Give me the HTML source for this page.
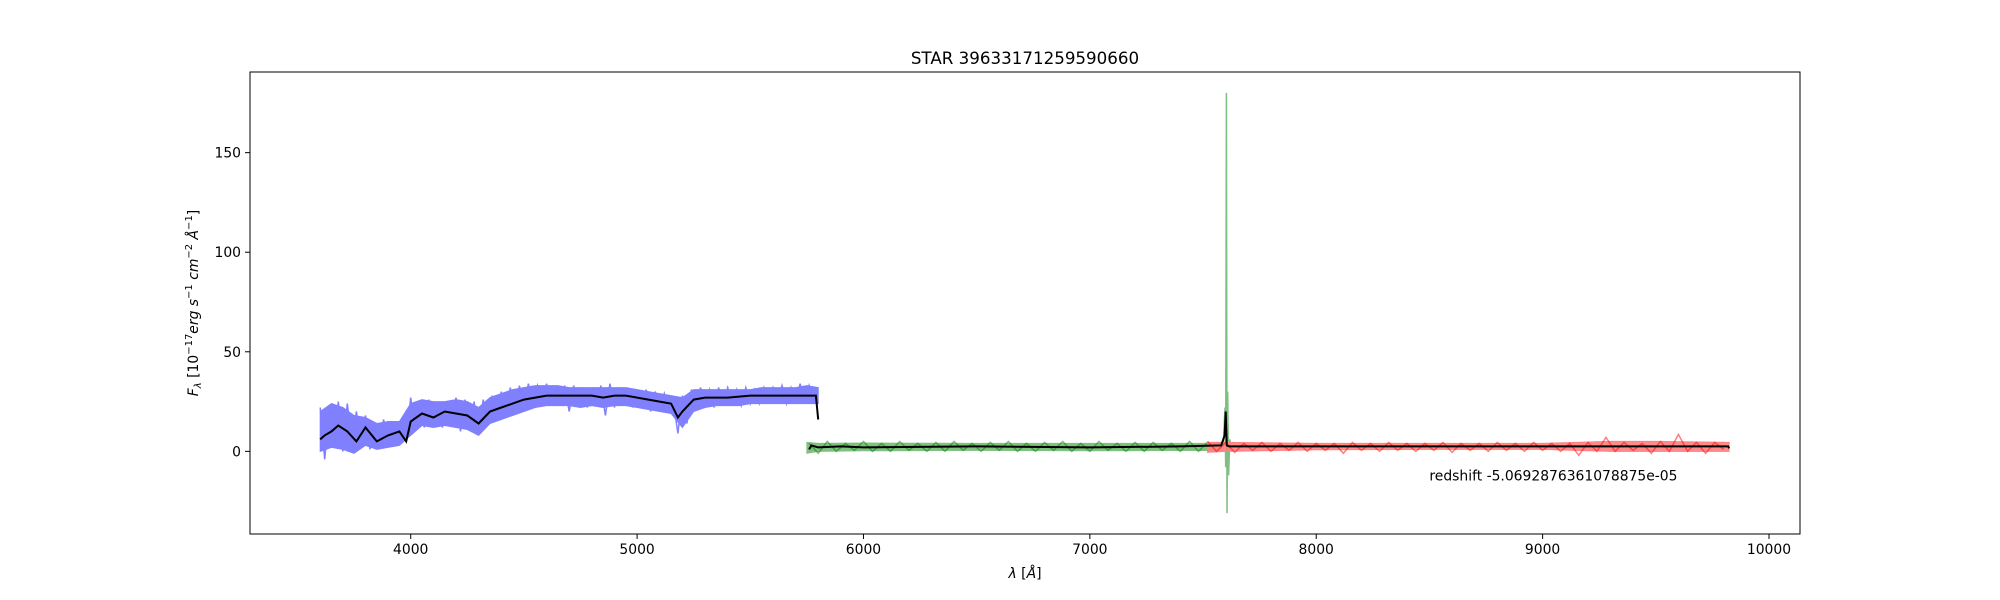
<!DOCTYPE html>
<html><head><meta charset="utf-8"><title>STAR 39633171259590660</title>
<style>
html,body{margin:0;padding:0;background:#fff;}
svg{display:block;font-family:"DejaVu Sans","Liberation Sans",sans-serif;}
</style></head>
<body>
<svg id="chart" width="2000" height="600" viewBox="0 0 2000 600" xmlns="http://www.w3.org/2000/svg">
<rect width="2000" height="600" fill="#fff"/>
<text x="1025" y="64" font-size="16.7" text-anchor="middle">STAR 39633171259590660</text>
<g id="plot"></g>
<g id="axes"></g>
<text x="1025" y="578" font-size="13.9" text-anchor="middle"><tspan font-style="italic">λ</tspan> [<tspan font-style="italic">Å</tspan>]</text>
<text transform="translate(198,303) rotate(-90)" font-size="13.9" text-anchor="middle"><tspan font-style="italic">F</tspan><tspan font-style="italic" font-size="10" dy="3">λ</tspan><tspan dy="-3"> [10</tspan><tspan font-size="10" dy="-6">−17</tspan><tspan font-style="italic" dy="6">erg s</tspan><tspan font-size="10" dy="-6">−1</tspan><tspan font-style="italic" dy="6"> cm</tspan><tspan font-size="10" dy="-6">−2</tspan><tspan font-style="italic" dy="6"> Å</tspan><tspan font-size="10" dy="-6">−1</tspan><tspan dy="6">]</tspan></text>
</svg>
<script>
// ---- data ----
const xTicks = [4000,5000,6000,7000,8000,9000,10000];
const yTicks = [0,50,100,150];
const blueStart = 3600, blueStep = 20;
const blueFlux = [22,-4,20,2,25,0,24,5,20,3,
18,1,14,3,16,2,13,4,12,5,
27,10,25,12,26,15,24,12,25,14,
27,10,26,12,25,8,26,15,28,16,
30,18,32,20,33,22,34,24,33,25,
34,24,33,24,33,20,33,24,32,22,
32,23,33,18,34,22,32,24,32,22,
31,22,31,20,30,21,29,20,25,9,
28,14,31,22,32,23,31,22,32,24,
32,24,31,23,32,24,31,24,32,25,
32,25,33,24,32,25,34,24,33,25,32];
const bandStart = 3600, bandStep = 50;
const blueHi = [20,24,22,18,17,14,15,15,24,26,25,25,26,25,22,27,29,31,32,33,33,33,32,32,32,32,32,32,31,30,29,28,27,31,31,31,31,31,31,32,32,32,32,33,32];
const blueLo = [0,2,1,-1,3,1,2,3,8,13,12,13,12,11,8,14,16,18,20,22,23,23,23,22,23,22,23,23,22,21,20,19,12,20,22,23,23,23,24,24,24,24,24,24,24];
const greenStart = 5760, greenStep = 40;
const greenFlux = [4,-1,5,0,4,0.5,5,0,4,0,5,0.5,4,0,4.5,0,5,0.5,4,0,4.5,0.5,5,0,4,0,4.5,0.5,5,0,4,0,5,0.5,4,0,4.5,0,4.5,0.5,4,0,5,0,4.5,0];
const greenBandWave = [5750,5800,6000,6500,7000,7500,7590];
const greenBandHi = [4.5,4,4.2,4,4,4,4.5];
const greenBandLo = [-1,0,0.3,0.5,0.3,0.5,0];
const spikeWave = [7590,7597,7600,7603,7606,7609,7613,7618,7625];
const spikeFlux = [4,22,-8,180,-31,30,-12,6,2];
const redStart = 7520, redStep = 40;
const redFlux = [5,0,4.5,-0.5,4,0.5,4.5,0,4,0.5,4.5,0,4,0.5,4,-1,4.5,0.5,4,0,4.5,0.5,4,0,4,0.5,4.5,-0.5,4,0.5,4,0,4.5,0.5,4,0,4.5,0.5,4,0,4,-2,4.5,0,7,0,4.5,0.5,4,-1,5,0,8.5,0,4.5,-1,4.5,1];
const redBandWave = [7520,7600,8000,8500,9000,9300,9500,9824];
const redBandHi = [4.5,4.5,4,4,4,5,5,4.5];
const redBandLo = [-0.5,0,0.8,1,1,0,0,0];
const modelWave = [3600,3620,3650,3680,3720,3760,3800,3850,3900,3950,3980,4000,4050,4100,4150,4200,4250,4300,4350,4400,4450,4500,4550,4600,4650,4700,4800,4850,4900,4950,5000,5050,5100,5150,5180,5200,5250,5300,5350,5400,5500,5600,5700,5790,5800];
const modelFlux = [6,8,10,13,10,5,12,5,8,10,5,15,19,17,20,19,18,14,20,22,24,26,27,28,28,28,28,27,28,28,27,26,25,24,17,20,26,27,27,27,28,28,28,28,16];
const model2Wave = [5760,5770,5800,5900,6000,6500,7000,7400,7580,7595,7600,7605,7615,7700,8000,8500,9000,9500,9820,9824];
const model2Flux = [1,3,2,2.5,2,2.5,2,2.5,3,8,20,3,2.5,2.5,2.5,2.5,2.5,2.5,2.5,1.5];

// ---- axes ----
const L=250,R=1800,T=72,B=534;
const xMin=3290,xMax=10137,yMin=-41.5,yMax=190.5;
const X=v=>L+(v-xMin)/(xMax-xMin)*(R-L);
const Y=v=>B-(v-yMin)/(yMax-yMin)*(B-T);
const NS="http://www.w3.org/2000/svg";
const plot=document.getElementById('plot'), axes=document.getElementById('axes');
function mk(tag,attrs,parent){const e=document.createElementNS(NS,tag);for(const k in attrs)e.setAttribute(k,attrs[k]);parent.appendChild(e);return e;}
function pts(ws,fs){return ws.map((w,i)=>X(w).toFixed(1)+','+Y(fs[i]).toFixed(1)).join(' ');}
function band(ws,hi,lo){return pts(ws,hi)+' '+pts(ws.slice().reverse(),lo.slice().reverse());}

const bbw=blueHi.map((_,i)=>bandStart+i*bandStep);
const bb=mk('polygon',{points:band(bbw,blueHi,blueLo),fill:'#8080ff',stroke:'#8080ff','stroke-width':1},plot);


const bw=blueFlux.map((_,i)=>blueStart+i*blueStep);
const blue=mk('polyline',{points:pts(bw,blueFlux),fill:'none',stroke:'#8080ff','stroke-width':1.5},plot);



const gb=mk('polygon',{points:band(greenBandWave,greenBandHi,greenBandLo),fill:'#80c080',stroke:'#80c080','stroke-width':1},plot);


const gw=greenFlux.map((_,i)=>greenStart+i*greenStep);
const green=mk('polyline',{points:pts(gw.concat(spikeWave),greenFlux.concat(spikeFlux)),fill:'none',stroke:'#008000','stroke-opacity':0.5,'stroke-width':1.5},plot);



const rb=mk('polygon',{points:band(redBandWave,redBandHi,redBandLo),fill:'#ff8080',stroke:'#ff8080','stroke-width':1,'fill-opacity':0.9},plot);


const rw=redFlux.map((_,i)=>redStart+i*redStep);
const red=mk('polyline',{points:pts(rw,redFlux),fill:'none',stroke:'#ff0000','stroke-opacity':0.5,'stroke-width':1.5},plot);



const m1=mk('polyline',{points:pts(modelWave,modelFlux),fill:'none',stroke:'#000','stroke-width':2},plot);


const m2=mk('polyline',{points:pts(model2Wave,model2Flux),fill:'none',stroke:'#000','stroke-width':2},plot);



const frame=mk('rect',{x:L,y:T,width:R-L,height:B-T,fill:'none',stroke:'#000','stroke-width':1},axes);



xTicks.forEach(t=>{
  const x=X(t);
  const tk=mk('line',{x1:x,x2:x,y1:B,y2:B+5,stroke:'#000'},axes);
  
  
  const lb=mk('text',{x:x,y:B+20,'font-size':13.9,'text-anchor':'middle'},axes);
  lb.textContent=t;
  
  
});
yTicks.forEach(t=>{
  const y=Y(t);
  const tk=mk('line',{x1:L-5,x2:L,y1:y,y2:y,stroke:'#000'},axes);
  
  
  const lb=mk('text',{x:L-9,y:y+5,'font-size':13.9,'text-anchor':'end'},axes);
  lb.textContent=t;
  
  
});
const ann=mk('text',{x:X(8500),y:Y(-12)+5,'font-size':13.9},axes);
ann.textContent='redshift -5.0692876361078875e-05';


</script>
</body></html>
